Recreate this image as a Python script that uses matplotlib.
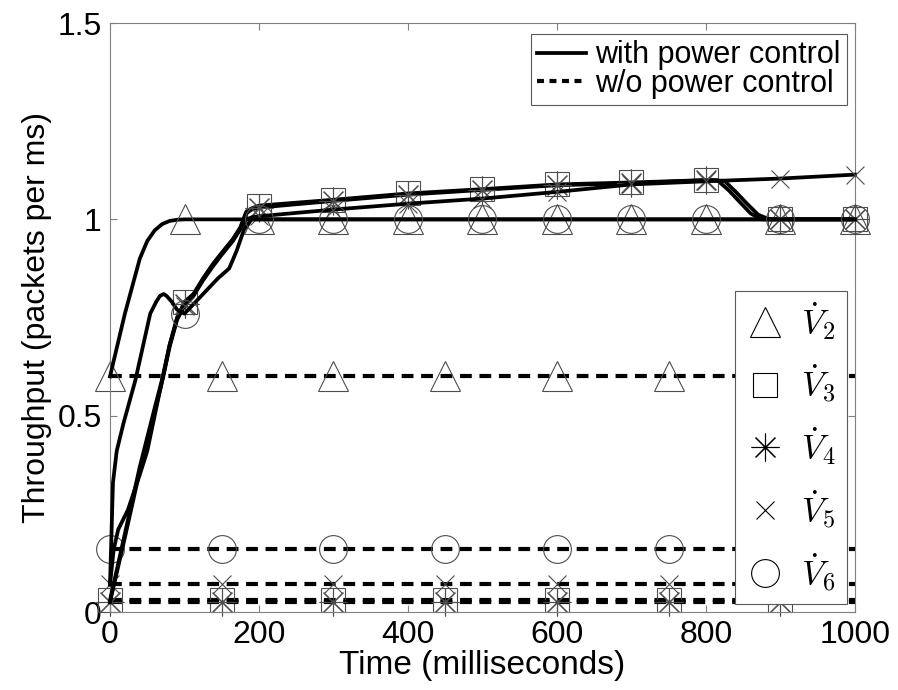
import numpy as np
import matplotlib
matplotlib.use('Agg')
import matplotlib.pyplot as plt
from matplotlib.lines import Line2D

plt.rcParams['font.family'] = ['Liberation Sans', 'DejaVu Sans']
plt.rcParams['mathtext.fontset'] = 'cm'
plt.rcParams['lines.scale_dashes'] = False

# marker times
mark_pc = [100, 200, 300, 400, 500, 600, 700, 800, 900, 1000]
mark_npc = [0, 150, 300, 450, 600, 750, 900]

# with power control
t_v2 = [0, 10, 20, 30, 40, 50, 60, 70, 80, 90, 100, 200, 300, 400, 500, 600, 700, 800, 900, 1000]
v2_pc = [0.60, 0.68, 0.76, 0.83, 0.90, 0.945, 0.972, 0.988, 0.996, 0.999,
         1.0, 1.0, 1.0, 1.0, 1.0, 1.0, 1.0, 1.0, 1.0, 1.0]

t_v3 = [0, 20, 40, 60, 71, 80, 90, 100, 112, 125, 138, 150, 165, 175, 183, 190, 200,
        300, 400, 500, 600, 700, 800, 815, 830, 845, 860, 875, 900, 1000]
v3_pc = [0.03, 0.20, 0.37, 0.52, 0.60, 0.68, 0.75, 0.79, 0.81, 0.85, 0.886, 0.915, 0.95, 0.98, 1.02, 1.028, 1.035,
         1.05, 1.066, 1.077, 1.089, 1.094, 1.10, 1.10, 1.075, 1.045, 1.015, 1.0, 1.0, 1.0]

t_v4 = [0, 20, 40, 60, 71, 80, 90, 100, 112, 125, 138, 150, 165, 175, 183, 190, 200,
        300, 400, 500, 600, 700, 800, 825, 840, 855, 870, 885, 900, 1000]
v4_pc = [0.025, 0.19, 0.36, 0.51, 0.595, 0.675, 0.745, 0.785, 0.808, 0.848, 0.884, 0.913, 0.948, 0.978, 1.015, 1.025, 1.03,
         1.047, 1.063, 1.075, 1.087, 1.092, 1.10, 1.098, 1.07, 1.04, 1.012, 1.0, 1.0, 1.0]

t_v5 = [0, 5, 11, 24, 40, 50, 71, 80, 90, 100, 112, 125, 138, 150, 165, 175, 183, 190, 200,
        300, 400, 500, 600, 700, 800, 900, 1000]
v5_pc = [0.07, 0.16, 0.21, 0.26, 0.35, 0.41, 0.60, 0.68, 0.745, 0.78, 0.805, 0.845, 0.88, 0.91, 0.945, 0.975, 1.0, 1.005, 1.008,
         1.025, 1.04, 1.053, 1.07, 1.089, 1.097, 1.104, 1.114]

t_v6 = [0, 4, 9, 18, 34, 54, 62, 67, 72, 76, 83, 90, 100, 115, 130, 145, 160, 170, 180, 190,
        200, 300, 400, 500, 600, 700, 800, 900, 1000]
v6_pc = [0.07, 0.33, 0.41, 0.48, 0.59, 0.76, 0.79, 0.805, 0.81, 0.805, 0.79, 0.77, 0.76, 0.79, 0.82, 0.85, 0.875, 0.92, 0.975, 1.0,
         1.0, 1.0, 1.0, 1.0, 1.0, 1.0, 1.0, 1.0, 1.0]

# without power control (flat levels)
t_npc = [0, 150, 300, 450, 600, 750, 900, 1000]
v2_npc = [0.60] * len(t_npc)
v3_npc = [0.03] * len(t_npc)
v4_npc = [0.025] * len(t_npc)
v5_npc = [0.072] * len(t_npc)
v6_npc = [0.16] * len(t_npc)

series = [
    ('$\\dot{V}_2$', '^', 21, t_v2, v2_pc, v2_npc),
    ('$\\dot{V}_3$', 's', 17, t_v3, v3_pc, v3_npc),
    ('$\\dot{V}_4$', (8, 2, 0), 20, t_v4, v4_pc, v4_npc),
    ('$\\dot{V}_5$', 'x', 13, t_v5, v5_pc, v5_npc),
    ('$\\dot{V}_6$', 'o', 20, t_v6, v6_pc, v6_npc),
]

mec = '0.3'
fig = plt.figure(figsize=(8.98, 6.90), dpi=100)
ax = fig.add_axes([0.1225, 0.113, 0.8296, 0.8536])

for label, m, ms, t, pc, npc in series:
    ax.plot(t_npc, npc, color='k', lw=3.0, dashes=(8.5, 5.5), marker=m, ms=ms,
            mfc='none', mec=mec, mew=0.8,
            markevery=list(np.isin(t_npc, mark_npc)), clip_on=False, zorder=2)
for label, m, ms, t, pc, npc in series:
    ax.plot(t, pc, color='k', lw=2.7, marker=m, ms=ms, mfc='none', mec=mec, mew=0.8,
            markevery=list(np.isin(t, mark_pc)), clip_on=False, zorder=3)

ax.set_xlim(0, 1000)
ax.set_ylim(0, 1.5)
ax.set_xticks([0, 200, 400, 600, 800, 1000])
ax.set_yticks([0, 0.5, 1, 1.5])
ax.set_yticklabels(['0', '0.5', '1', '1.5'])
ax.tick_params(direction='in', length=5, width=0.8, color='0.5', labelsize=23,
               top=True, right=True, pad=6)
for s in ax.spines.values():
    s.set_color('0.5')
    s.set_linewidth(0.8)

ax.set_xlabel('Time (milliseconds)', fontsize=24, labelpad=0)
ax.set_ylabel('Throughput (packets per ms)', fontsize=23, labelpad=4)

# legend for line style
style_handles = [Line2D([], [], color='k', lw=2.7),
                 Line2D([], [], color='k', lw=3.0, dashes=(5, 4))]
leg1 = ax.legend(style_handles, ['with power control', 'w/o power control'],
                 loc='upper right', bbox_to_anchor=(0.989, 0.981), borderaxespad=0,
                 fontsize=22, fancybox=False, edgecolor='0.35', framealpha=1,
                 handlelength=1.6, handletextpad=0.3, labelspacing=-0.05,
                 borderpad=0.2)
leg1.get_frame().set_linewidth(0.8)
ax.add_artist(leg1)

# legend for markers
marker_handles = [Line2D([], [], ls='none', marker=m, ms=ms, mfc='none', mec='k', mew=0.8)
                  for label, m, ms, t, pc, npc in series]
leg2 = ax.legend(marker_handles, [s[0] for s in series],
                 loc='lower right', bbox_to_anchor=(0.989, 0.0136), borderaxespad=0,
                 fontsize=25, fancybox=False, edgecolor='0.35', framealpha=1,
                 handlelength=1.1, handletextpad=0.5, labelspacing=0.6,
                 borderpad=0.3)
leg2.get_frame().set_linewidth(0.8)

fig.savefig('out.png', dpi=100)
